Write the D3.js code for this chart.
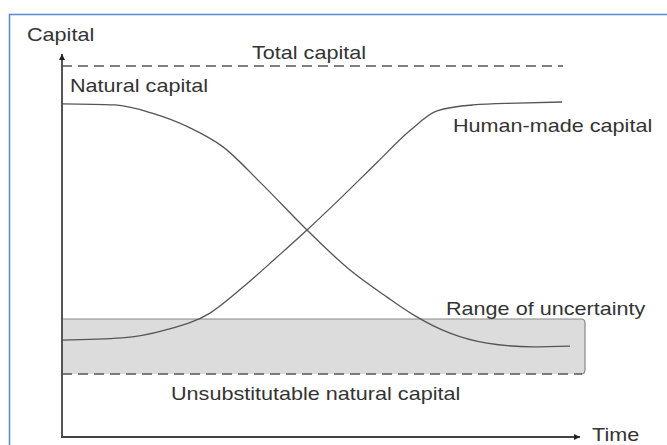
<!DOCTYPE html>
<meta charset="utf-8">
<style>
body {
  margin: 0;
  background: #fff;
}
text {
  font-family: "Liberation Sans", Arial, sans-serif;
  font-size: 18px;
  fill: #333;
}
.curve {
  fill: none;
  stroke: #555;
  stroke-width: 1.3;
}
.dash {
  stroke: #555;
  stroke-width: 1.5;
  stroke-dasharray: 10,6;
}
</style>
<body>
<script src="https://cdn.jsdelivr.net/npm/d3@7"></script>
<script>

var width = 667,
    height = 445;

// time (0..100) and capital (0..100, total capital = 100)
var time = [0, 10.6, 18, 25.2, 32.2, 39.6, 49, 57.6, 65, 70.2, 77.6, 85, 94.2, 101.6];
var naturalCapital = [89.8, 89.5, 87.3, 83.6, 78.2, 68.7, 55.8, 45.0, 37.7, 33.0, 28.0, 25.3, 24.3, 24.5];

var timeHuman = [0, 12, 20.6, 29.6, 36.2, 43, 49, 56.2, 63, 69.6, 75, 82.2, 91, 100];
var humanCapital = [26.1, 26.7, 28.8, 33.4, 40.4, 48.5, 55.8, 65.0, 74.0, 82.6, 87.9, 89.5, 90.0, 90.3];

var totalCapital = 100;
var totalEnd = 100.2;
var uncertaintyRange = [17.0, 31.8];
var uncertaintyEnd = 104.6;
var axisEnd = 103.6;

var labels = [
  {text: "Capital", t: -7, v: 106.8},
  {text: "Total capital", t: 38, v: 101.9},
  {text: "Natural capital", t: 1.6, v: 93},
  {text: "Human-made capital", t: 78.2, v: 82.2},
  {text: "Range of uncertainty", t: 76.8, v: 32.9},
  {text: "Unsubstitutable natural capital", t: 21.8, v: 10.0},
  {text: "Time", t: 106, v: -1.1}
];

var x = d3.scaleLinear().domain([0, 100]).range([62, 562]);
var y = d3.scaleLinear().domain([0, 100]).range([437, 66]);

var svg = d3.select("body").append("svg")
    .attr("width", width)
    .attr("height", height);

// blue frame
svg.append("path")
    .attr("d", "M9.5," + height + "V14.5H" + width)
    .attr("fill", "none")
    .attr("stroke", "#5a8ad0")
    .attr("stroke-width", 1.5);

svg.append("defs").append("marker")
    .attr("id", "arrow")
    .attr("viewBox", "0 0 10 10")
    .attr("refX", 10).attr("refY", 5)
    .attr("markerWidth", 8).attr("markerHeight", 6)
    .attr("markerUnits", "userSpaceOnUse")
    .attr("orient", "auto")
  .append("path")
    .attr("d", "M0,0L10,5L0,10z")
    .attr("fill", "#222");

// range of uncertainty box
var bx0 = x(0), bx1 = x(uncertaintyEnd), by0 = y(uncertaintyRange[1]), by1 = y(uncertaintyRange[0]);
svg.append("rect")
    .attr("x", bx0).attr("y", by0)
    .attr("width", bx1 - bx0).attr("height", by1 - by0)
    .attr("rx", 4)
    .attr("fill", "#dcdcdc");
svg.append("path")
    .attr("d", "M" + bx0 + "," + by0 + "H" + (bx1 - 4) + "Q" + bx1 + "," + by0 + " " + bx1 + "," + (by0 + 4) +
      "V" + (by1 - 4) + "Q" + bx1 + "," + by1 + " " + (bx1 - 4) + "," + by1)
    .attr("fill", "none")
    .attr("stroke", "#888")
    .attr("stroke-width", 1.2);
svg.append("line")
    .attr("class", "dash")
    .attr("x1", bx0).attr("x2", bx1 - 3)
    .attr("y1", by1).attr("y2", by1);

// total capital
svg.append("line")
    .attr("class", "dash")
    .attr("x1", x(0)).attr("x2", x(totalEnd))
    .attr("y1", y(totalCapital)).attr("y2", y(totalCapital));

var line = d3.line()
    .x(function(d) { return x(d[0]); })
    .y(function(d) { return y(d[1]); })
    .curve(d3.curveMonotoneX);

svg.append("path")
    .attr("class", "curve")
    .attr("d", line(d3.zip(time, naturalCapital)));

svg.append("path")
    .attr("class", "curve")
    .attr("d", line(d3.zip(timeHuman, humanCapital)));

// axes
svg.append("line")
    .attr("x1", x(0)).attr("y1", y(0))
    .attr("x2", x(0)).attr("y2", 54)
    .attr("stroke", "#444").attr("stroke-width", 1.8)
    .attr("marker-end", "url(#arrow)");

svg.append("line")
    .attr("x1", x(0) - 1).attr("y1", y(0))
    .attr("x2", x(axisEnd)).attr("y2", y(0))
    .attr("stroke", "#444").attr("stroke-width", 1.8)
    .attr("marker-end", "url(#arrow)");

svg.selectAll(".label")
    .data(labels)
  .enter().append("text")
    .attr("class", "label")
    .attr("transform", function(d) { return "translate(" + x(d.t) + "," + y(d.v) + ")scale(1.2,1)"; })
    .text(function(d) { return d.text; });

</script>
